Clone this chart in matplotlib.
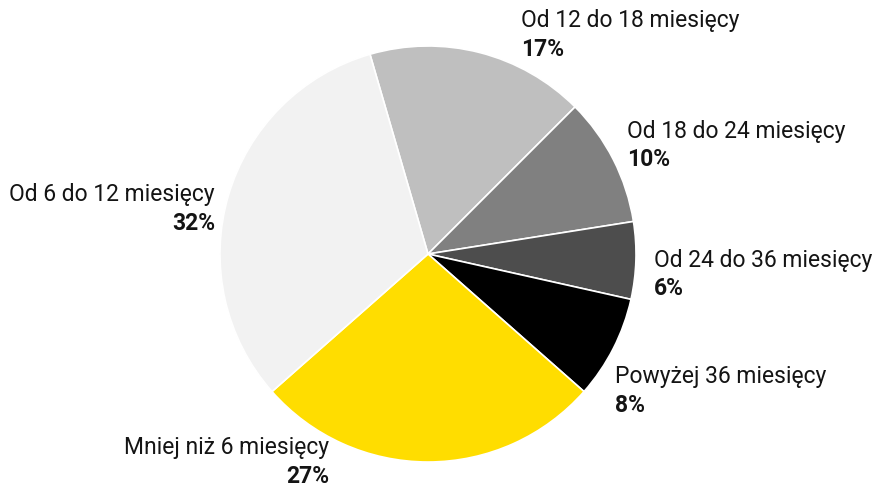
import matplotlib
matplotlib.use('Agg')
import matplotlib.pyplot as plt

plt.rcParams['font.family'] = ['Roboto', 'DejaVu Sans']

# slices, clockwise from the top
labels = ['Od 12 do 18 miesięcy', 'Od 18 do 24 miesięcy', 'Od 24 do 36 miesięcy',
          'Powyżej 36 miesięcy', 'Mniej niż 6 miesięcy', 'Od 6 do 12 miesięcy']
shares = [17, 10, 6, 8, 27, 32]
colors = ['#bfbfbf', '#808080', '#4d4d4d', '#000000', '#ffdd00', '#f2f2f2']

# label anchors (in pie radii) and alignment
label_xy = [(0.447, 1.053), (0.957, 0.52), (1.087, -0.1),
            (0.899, -0.659), (-0.476, -1.0), (-1.024, 0.216)]
label_ha = ['left', 'left', 'left', 'left', 'right', 'right']

W, H = 877, 490
R = 208.0
cx, cy = 428, 254

fig = plt.figure(figsize=(W / 100, H / 100), dpi=100)
ax = fig.add_axes([0, 0, 1, 1])
ax.pie(shares, colors=colors, startangle=106.2, counterclock=False,
       radius=1.0, wedgeprops=dict(edgecolor='white', linewidth=1.2))

for lab, val, (x, y), ha in zip(labels, shares, label_xy, label_ha):
    ax.text(x, y + 0.068, lab, ha=ha, va='center', fontsize=16.5, color='#141414')
    ax.text(x, y - 0.068, '%d%%' % val, ha=ha, va='center', fontsize=16.5,
            fontweight='bold', color='#141414')

ax.set_xlim(-cx / R, (W - cx) / R)
ax.set_ylim(-(H - cy) / R, cy / R)
ax.set_aspect('auto')
ax.axis('off')

fig.savefig('out.png', dpi=100, facecolor='white')
